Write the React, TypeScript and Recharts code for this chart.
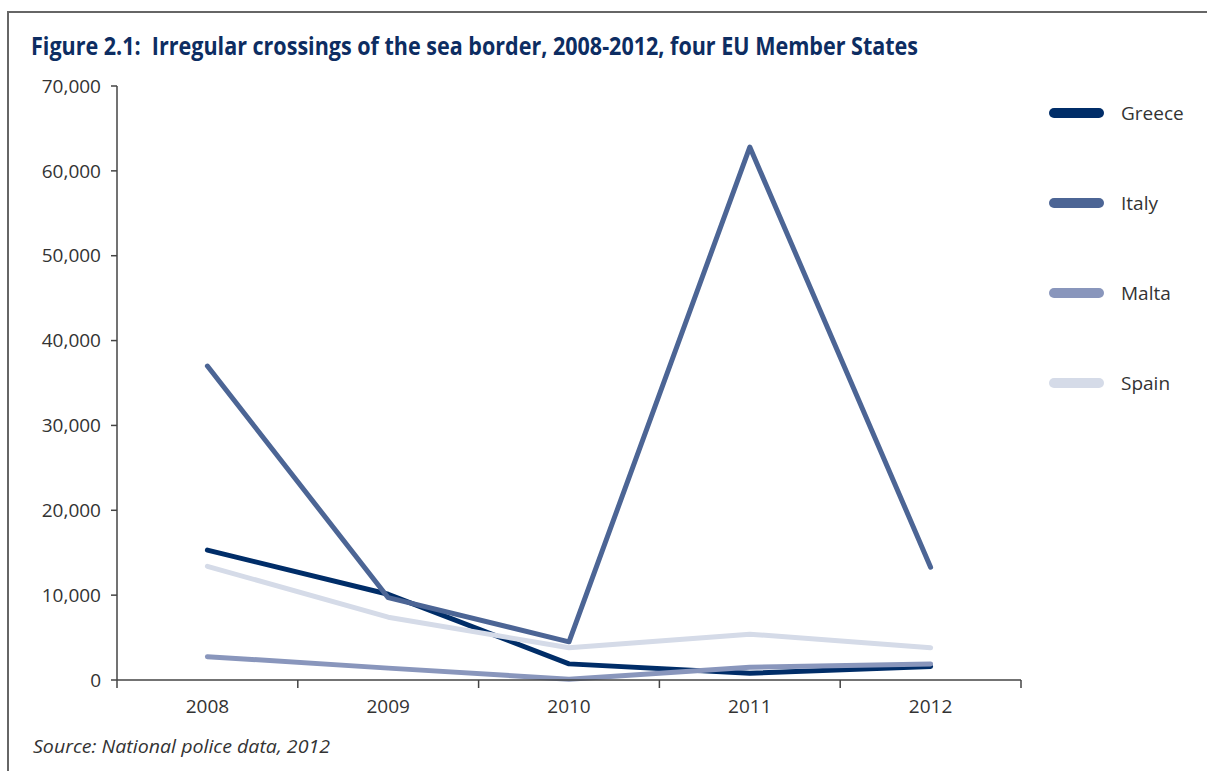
import React from 'react';
import { LineChart, Line, XAxis, YAxis } from 'recharts';

const years = ['2008', '2009', '2010', '2011', '2012'];
const greece = [15300, 10100, 1900, 800, 1600];
const italy = [37000, 9700, 4500, 62800, 13300];
const malta = [2750, 1400, 100, 1500, 1900];
const spain = [13400, 7400, 3800, 5400, 3800];
const yTicks = [0, 10000, 20000, 30000, 40000, 50000, 60000, 70000];

const seriesNames = ['Greece', 'Italy', 'Malta', 'Spain'];
const seriesColors = ['#002d68', '#4c6595', '#8996bc', '#d5dbe8'];

const data = years.map((year, i) => ({
  year,
  Greece: greece[i],
  Italy: italy[i],
  Malta: malta[i],
  Spain: spain[i],
}));

// plot area: x 117..1021, y 86..680
const PLOT_LEFT = 117;
const PLOT_RIGHT = 1021;
const HALF_BAND = (PLOT_RIGHT - PLOT_LEFT) / years.length / 2;
const AXIS_COLOR = '#444';
const FONT = "'Open Sans', 'Noto Sans', sans-serif";

const YearTick = (props: any) => {
  const { x, y, payload, index } = props;
  const axisY = y - 20;
  return (
    <g>
      <line x1={x - HALF_BAND} y1={axisY} x2={x - HALF_BAND} y2={axisY + 8} stroke={AXIS_COLOR} strokeWidth={1.5} />
      {index === years.length - 1 && (
        <line x1={x + HALF_BAND} y1={axisY} x2={x + HALF_BAND} y2={axisY + 8} stroke={AXIS_COLOR} strokeWidth={1.5} />
      )}
      <text x={x} y={y} dy="0.71em" textAnchor="middle" fill="#333" fontSize={19} fontFamily={FONT}>
        {payload.value}
      </text>
    </g>
  );
};

export default function App() {
  return (
    <div style={{ position: 'absolute', left: 0, top: 0, width: 1207, height: 771, background: '#fff', overflow: 'hidden' }}>
      <div
        style={{
          position: 'absolute',
          left: 7,
          top: 11,
          width: 1200,
          height: 770,
          borderLeft: '2px solid #666',
          borderTop: '2px solid #666',
        }}
      />
      <svg width={1207} height={771} style={{ position: 'absolute', left: 0, top: 0 }}>
        <text
          x={31}
          y={55}
          fontFamily={FONT}
          fontWeight={700}
          fontSize={25}
          fill="#0d2d62"
          textLength={887}
          lengthAdjust="spacingAndGlyphs"
          style={{ whiteSpace: 'pre' }}
        >
          {'Figure 2.1:  Irregular crossings of the sea border, 2008-2012, four EU Member States'}
        </text>
        <text
          x={33}
          y={753}
          fontFamily={FONT}
          fontStyle="italic"
          fontSize={19}
          fill="#333"
          textLength={297}
          lengthAdjust="spacingAndGlyphs"
        >
          Source: National police data, 2012
        </text>
      </svg>
      <div style={{ position: 'absolute', left: 0, top: 0 }}>
        <LineChart width={1207} height={771} data={data} margin={{ top: 86, right: 186, left: 37, bottom: 61 }}>
          <XAxis
            dataKey="year"
            padding={{ left: HALF_BAND, right: HALF_BAND }}
            axisLine={{ stroke: AXIS_COLOR, strokeWidth: 1.5 }}
            tickLine={false}
            tickSize={8}
            tickMargin={12}
            height={30}
            tick={<YearTick />}
            interval={0}
          />
          <YAxis
            domain={[0, 70000]}
            ticks={yTicks}
            width={80}
            interval={0}
            axisLine={{ stroke: AXIS_COLOR, strokeWidth: 1.5 }}
            tickLine={{ stroke: AXIS_COLOR, strokeWidth: 1.5 }}
            tickSize={6}
            tickMargin={10}
            tick={{ fill: '#333', fontSize: 19, fontFamily: FONT }}
            tickFormatter={(v: number) => v.toLocaleString('en-US')}
          />
          {seriesNames.map((name, i) => (
            <Line
              key={name}
              type="linear"
              dataKey={name}
              stroke={seriesColors[i]}
              strokeWidth={5}
              strokeLinecap="round"
              strokeLinejoin="round"
              dot={false}
              activeDot={false}
              isAnimationActive={false}
            />
          ))}
        </LineChart>
      </div>
      <div style={{ position: 'absolute', left: 1049, top: 98 }}>
        {seriesNames.map((name, i) => (
          <div key={name} style={{ display: 'flex', alignItems: 'center', height: 30, marginBottom: 60 }}>
            <div style={{ width: 55, height: 10, borderRadius: 5, background: seriesColors[i] }} />
            <span style={{ marginLeft: 17, fontFamily: FONT, fontSize: 19, color: '#333' }}>{name}</span>
          </div>
        ))}
      </div>
    </div>
  );
}
